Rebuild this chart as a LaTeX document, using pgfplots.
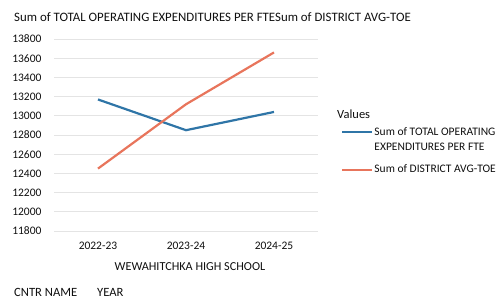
\documentclass[border=0pt]{standalone}
\usepackage{fontspec}
\setmainfont{Carlito}
\usepackage{pgfplots}
\pgfplotsset{compat=1.18}
\definecolor{bl}{RGB}{47,117,167}
\definecolor{orc}{RGB}{232,117,92}
\definecolor{txt}{RGB}{15,15,15}
\definecolor{grd}{RGB}{228,228,228}
\pgfplotsset{
  uplegend/.style={legend image code/.code={\path (0pt,-7.5pt) (0pt,7.5pt); \draw[##1] (0pt,7.5pt) -- (30pt,7.5pt);}},
  midlegend/.style={legend image code/.code={\path (0pt,-7.5pt) (0pt,7.5pt); \draw[##1] (0pt,0pt) -- (30pt,0pt);}},
}
\begin{document}
\begin{tikzpicture}[x=1pt,y=1pt]
\path[use as bounding box] (0,0) rectangle (503,304);
\node[anchor=west,font=\fontsize{12.85}{15}\selectfont,text=txt,inner sep=0pt] at (14,287) {Sum of TOTAL OPERATING EXPENDITURES PER FTESum of DISTRICT AVG-TOE};
\node[anchor=west,font=\fontsize{12.6}{15}\selectfont,text=txt,inner sep=0pt] at (14,12) {CNTR NAME};
\node[anchor=west,font=\fontsize{12.6}{15}\selectfont,text=txt,inner sep=0pt] at (97,12) {YEAR};
\begin{axis}[
  at={(54pt,73pt)}, anchor=south west,
  scale only axis, width=264pt, height=192pt,
  xmin=-0.5, xmax=2.5, ymin=11800, ymax=13800,
  ytick={11800,12000,...,13800},
  scaled y ticks=false,
  xtick={0,1,2}, xticklabels={2022-23,2023-24,2024-25},
  axis line style={draw=none}, major tick length=0pt,
  ymajorgrids, grid style={grd, line width=0.6pt},
  clip=false,
  tick label style={font=\fontsize{11.5}{13}\selectfont, text=txt},
  /pgf/number format/assume math mode=true,
  /pgf/number format/fixed,
  /pgf/number format/1000 sep={},
  yticklabel style={anchor=east, xshift=-9pt},
  xticklabel style={yshift=-8pt},
  legend style={at={(rel axis cs:1.076,0.555)}, anchor=north west, draw=none, fill=none,
    font=\fontsize{11.5}{15}\selectfont, text=txt, nodes={align=left, inner sep=1pt},
    row sep=8pt},
  legend cell align=left,
]
\addplot[bl, line width=2.2pt, uplegend] coordinates {(0,13170) (1,12850) (2,13040)};
\addlegendentry{Sum of TOTAL OPERATING\\EXPENDITURES PER FTE}
\addplot[orc, line width=2.2pt, midlegend] coordinates {(0,12450) (1,13120) (2,13660)};
\addlegendentry{Sum of DISTRICT AVG-TOE}
\node[anchor=center,font=\fontsize{12.2}{14}\selectfont,text=txt] at (rel axis cs:0.515,0) [yshift=-36pt] {WEWAHITCHKA HIGH SCHOOL};
\node[anchor=west,font=\fontsize{12.5}{14}\selectfont,text=txt,inner sep=0pt] at (rel axis cs:1.072,0.61) {Values};
\end{axis}
\end{tikzpicture}
\end{document}
